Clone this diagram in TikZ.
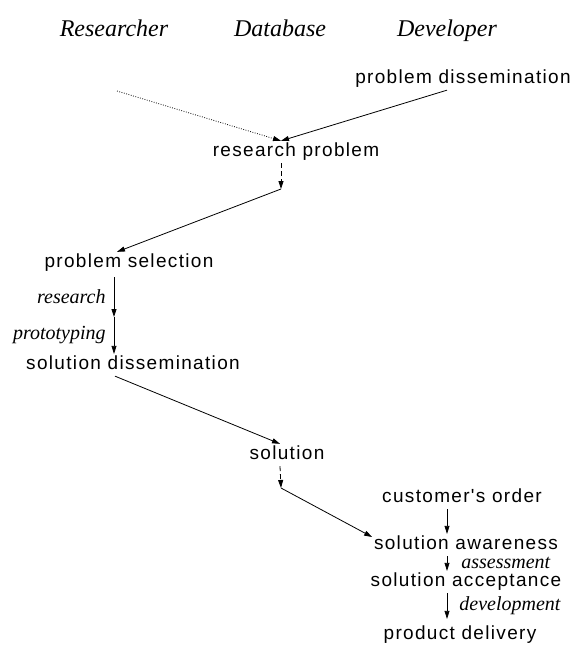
\documentclass[tikz,border=0pt]{standalone}
\usepackage{fontspec}
\setmainfont{Liberation Serif}
\newfontfamily\stagefont{Liberation Sans}[LetterSpace=7]
\usetikzlibrary{calc, positioning}
\usetikzlibrary{arrows.meta}
\def\lw{0.8pt}
\tikzset{
    role/.style = {
        font=\fontsize{24}{26}\selectfont\itshape, anchor=base, inner sep=0pt
    },
    stage/.style = {
        font=\stagefont\fontsize{19}{21}\selectfont, text height=14pt, text depth=4.5pt, inner sep=1.5pt
    },
    activity/.style = {
        font=\fontsize{20}{22}\selectfont\itshape, inner sep=0pt
    },
}

\begin{document}
\begin{tikzpicture}[x=1pt, y=-1pt, line width=\lw]
        \useasboundingbox (0,0) rectangle (574,646);
        % Place the roles
        \node[role] (researcher) at (114,36) {Researcher};
        \node[role] (database) at (280,36) {Database};
        \node[role] (developer) at (447,36) {Developer};

        % Place the stages
        \node[stage] (probdiss) at (463,79) {problem dissemination};
        \node[stage] (resprob) at (296,152) {research problem};
        \node[stage] (probsel) at (129,263) {problem selection};
        \node[stage] (soldiss) at (133,365) {solution dissemination};
        \node[stage] (sol) at (287,455) {solution};
        \node[stage] (custorder) at (462,498) {customer's order};
        \node[stage] (solaware) at (466,545) {solution awareness};
        \node[stage] (solaccept) at (466,582) {solution acceptance};
        \node[stage] (proddeliv) at (460,635) {product delivery};

        % Free ends and corners
        \coordinate (feed) at (117,91);
        \coordinate (rturn) at (281,189);
        \coordinate (rmid) at (114,317);
        \coordinate (sturn) at (281,488);

        % Draw connections
        \begin{scope}[>={Triangle[width=5pt,length=8pt]}]
            \draw[->, dash pattern=on 0.8pt off 1.6pt] (feed) -- ([xshift=-15pt] resprob.north);
            \draw[->] ([xshift=-16pt] probdiss.south) -- ([xshift=-15pt] resprob.north);
            \draw[->, dash pattern=on 5pt off 3pt] ([xshift=-15pt] resprob.south) -- (rturn);
            \draw[->] (rturn) -- ([xshift=-12pt] probsel.north);
            \draw[->] ([xshift=-15pt, yshift=-3pt] probsel.south) -- (rmid) node[midway, activity, left=8pt] {research};
            \draw[->] (rmid) -- ([xshift=-19pt] soldiss.north) node[midway, activity, left=8pt] {prototyping};
            \draw[->] ([xshift=-18pt] soldiss.south) -- ([xshift=-7pt] sol.north);
            \draw[->, dash pattern=on 5pt off 3pt] ([xshift=-7pt] sol.south) -- (sturn);
            \draw[->] (sturn) -- ([yshift=8pt] solaware.west);
            \draw[->] ([xshift=-15pt] custorder.south) -- ([xshift=-19pt] solaware.north);
            \draw[->] ([xshift=-19pt] solaware.south) -- ([xshift=-19pt] solaccept.north) node[midway, activity, right=14pt, yshift=1pt] {assessment};
            \draw[->] ([xshift=-19pt] solaccept.south) -- ([xshift=-13pt, yshift=5pt] proddeliv.north) node[midway, activity, right=12pt] {development};
        \end{scope}
\end{tikzpicture}
\end{document}
